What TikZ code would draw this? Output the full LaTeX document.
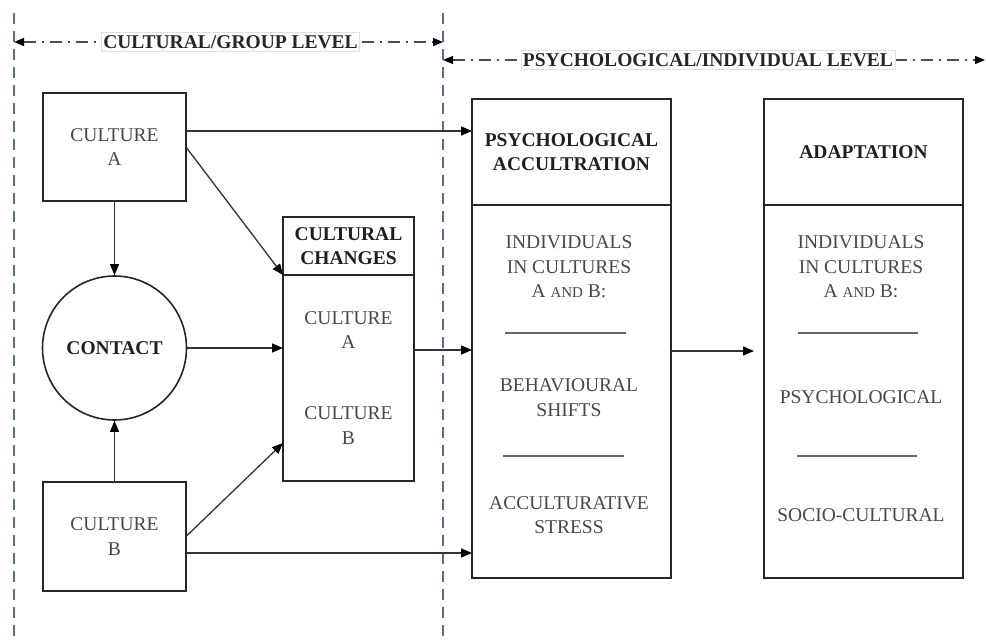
\documentclass[tikz,border=0pt]{standalone}
\usepackage{fontspec}
\setmainfont{Liberation Serif}
\usetikzlibrary{arrows.meta}
\definecolor{guide}{RGB}{80,110,160}
\begin{document}
\begin{tikzpicture}[x=1pt,y=-1pt,
  box/.style={draw=black!85, line width=1.6pt, inner sep=0pt, outer sep=0pt},
  txt/.style={align=center, text=black!72, font=\fontsize{19.5}{24.5}\selectfont},
  hd/.style={align=center, text=black!88, font=\fontsize{19.5}{24}\selectfont\bfseries},
  link/.style={draw=black!80, line width=1.3pt, -{Triangle[length=11pt,width=9pt,color=black]}},
  rule/.style={draw=black!60, line width=1.6pt},
  guideline/.style={draw=guide, line width=1.2pt, dash pattern=on 11pt off 7pt},
  span/.style={draw=black!70, line width=1.4pt, dash pattern=on 12pt off 6pt on 2pt off 6pt,
    {Triangle[length=10pt,width=8pt,color=black]}-{Triangle[length=10pt,width=8pt,color=black]}},
  tag/.style={fill=white, draw=black!12, line width=0.5pt, inner xsep=2pt, inner ysep=3pt,
    text=black!85, font=\fontsize{19.5}{24}\selectfont\bfseries}
]
\useasboundingbox (0,0) rectangle (986,640);

% level guides
\coordinate (g1top) at (14,13);
\coordinate (g1bot) at (14,640);
\coordinate (g2top) at (443,13);
\coordinate (g2bot) at (443,640);
\draw[guideline] (g1top) -- (g1bot);
\draw[guideline] (g2top) -- (g2bot);

% level spans
\coordinate (s1l) at (14,42);
\coordinate (s1r) at (443,42);
\coordinate (s2l) at (443,60);
\coordinate (s2r) at (985,60);
\draw[span] (s1l) -- (s1r);
\draw[span] (s2l) -- (s2r);
\node[tag] (lvl1) at (230.5,42) {CULTURAL/GROUP LEVEL};
\node[tag] (lvl2) at (708,60) {PSYCHOLOGICAL/INDIVIDUAL LEVEL};

% cultural level
\node[box, txt, minimum width=143pt, minimum height=108pt] (ca) at (114.5,147) {CULTURE\\A};
\node[box, txt, minimum width=143pt, minimum height=109pt] (cb) at (114.5,536.5) {CULTURE\\B};
\node[draw=black!85, line width=1.6pt, circle, minimum size=144pt, inner sep=0pt, hd] (contact) at (114.5,348) {CONTACT};

\node[box, hd, minimum width=131pt, minimum height=58pt] (cch) at (348.5,246) {CULTURAL\\CHANGES};
\node[box, minimum width=131pt, minimum height=206pt] (ccb) at (348.5,378) {};
\node[txt] (cca) at (348.5,330) {CULTURE\\A};
\node[txt] (ccbt) at (348.5,425.5) {CULTURE\\B};

% psychological level
\node[box, hd, minimum width=199pt, minimum height=106pt] (pah) at (571.5,152) {PSYCHOLOGICAL\\ACCULTRATION};
\node[box, minimum width=199pt, minimum height=373pt] (pab) at (571.5,391.5) {};
\node[txt] (pa1) at (569,267) {INDIVIDUALS\\IN CULTURES\\A {\fontsize{15}{24}\selectfont AND} B:};
\node[txt] (pa2) at (569,397.5) {BEHAVIOURAL\\SHIFTS};
\node[txt] (pa3) at (569,515) {ACCULTURATIVE\\STRESS};
\draw[rule] (505,333) -- (626,333);
\draw[rule] (503,456) -- (624,456);

\node[box, hd, minimum width=199pt, minimum height=106pt] (adh) at (863.5,152) {ADAPTATION};
\node[box, minimum width=199pt, minimum height=373pt] (adb) at (863.5,391.5) {};
\node[txt] (ad1) at (861,267) {INDIVIDUALS\\IN CULTURES\\A {\fontsize{15}{24}\selectfont AND} B:};
\node[txt] (ad2) at (861,397) {PSYCHOLOGICAL};
\node[txt] (ad3) at (861,515) {SOCIO-CULTURAL};
\draw[rule] (798,333) -- (918,333);
\draw[rule] (797,456) -- (917,456);

% connectors
\draw[link] (ca.south) -- (contact.north);
\draw[link] (cb.north) -- (contact.south);
\draw[link] (contact.east) -- (contact.east -| ccb.west);
\draw[link] ([yshift=16pt]ca.east) -- ([yshift=16pt]ca.east -| pah.west);
\draw[link] (ca.east) -- (ccb.north west);
\draw[link] (cb.east) -- ([yshift=38pt]ccb.south west);
\draw[link] ([yshift=-16.5pt]cb.east) -- ([yshift=-16.5pt]cb.east -| pab.west);
\draw[link] ([yshift=28pt]ccb.east) -- ([yshift=28pt]ccb.east -| pab.west);
\draw[link, shorten >=10pt] ([yshift=40.5pt]pab.east) -- ([yshift=40.5pt]pab.east -| adb.west);
\end{tikzpicture}
\end{document}
